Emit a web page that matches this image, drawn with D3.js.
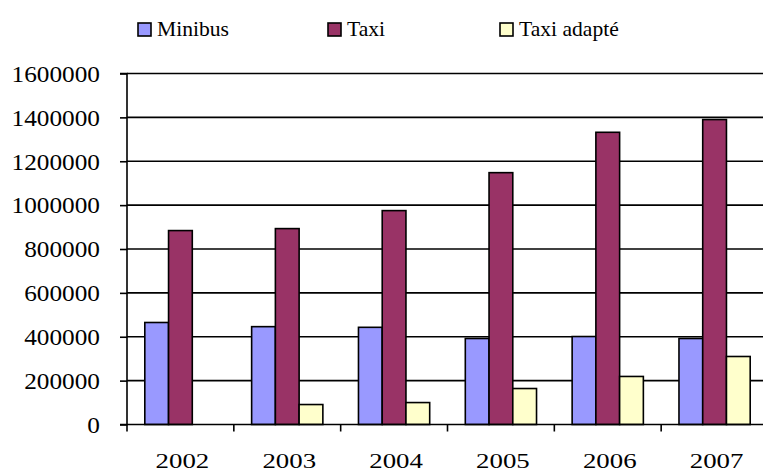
<!DOCTYPE html>
<html>
<head>
<meta charset="utf-8">
<script src="https://cdn.jsdelivr.net/npm/d3@7"></script>
<style>
html,body{margin:0;padding:0;background:#fff;overflow:hidden;}
svg{display:block;}
</style>
</head>
<body>
<svg id="chart" width="763" height="474"></svg>
<script>
const years = ["2002","2003","2004","2005","2006","2007"];
const seriesNames = ["Minibus","Taxi","Taxi adapté"];
const seriesColors = ["#9999FF","#993366","#FFFFCC"];
const minibus = [465000, 446000, 443000, 392000, 401000, 392000];
const taxi = [884000, 893000, 975000, 1148000, 1332000, 1390000];
const taxiAdapte = [0, 91000, 100000, 164000, 219000, 310000];
const yTicks = [0, 200000, 400000, 600000, 800000, 1000000, 1200000, 1400000, 1600000];

const seriesValues = [minibus, taxi, taxiAdapte];
const svg = d3.select("#chart");
const mLeft = 127, mRight = 768, mTop = 73.5, mBottom = 424.5;
const FONT = "'Liberation Serif'";

const x = d3.scaleBand().domain(years).range([mLeft, mRight]).paddingInner(0).paddingOuter(0);
const bw = x.bandwidth() / 4.5;
const x1 = d3.scaleBand().domain(seriesNames).range([0.75 * bw, 3.75 * bw]).padding(0);
const y = d3.scaleLinear().domain([0, 1600000]).range([mBottom, mTop]);

// gridlines
svg.append("g").selectAll("line").data(yTicks.filter(d => d > 0)).join("line")
  .attr("x1", mLeft).attr("x2", mRight)
  .attr("y1", d => y(d)).attr("y2", d => y(d))
  .attr("stroke", "#000").attr("stroke-width", 1.6);

// bars
const groups = svg.append("g").selectAll("g").data(years).join("g")
  .attr("transform", d => `translate(${x(d)},0)`);
groups.selectAll("rect").data((yr, i) => seriesNames.map((s, j) => ({s, j, v: seriesValues[j][i]})).filter(d => d.v > 0))
  .join("rect")
  .attr("x", d => x1(d.s))
  .attr("width", x1.bandwidth())
  .attr("y", d => y(d.v))
  .attr("height", d => y(0) - y(d.v))
  .attr("fill", d => seriesColors[d.j])
  .attr("stroke", "#000").attr("stroke-width", 1.6);

// y axis
const yAxis = d3.axisLeft(y).tickValues(yTicks).tickSize(7).tickPadding(19).tickFormat(d3.format("d"));
const gy = svg.append("g").attr("transform", `translate(${mLeft},0)`).call(yAxis);
gy.attr("font-family", null).attr("font-size", null);
gy.select(".domain").attr("stroke", "#000").attr("stroke-width", 1.6).attr("d", `M-7,${mTop}H0V${mBottom}H-7`);
gy.selectAll(".tick line").attr("stroke", "#000").attr("stroke-width", 1.6);
gy.selectAll(".tick text")
  .attr("x", 0).attr("dy", "0.34em")
  .attr("transform", "translate(-27,0) scale(1.1,1)")
  .attr("fill", "#000")
  .style("font-family", FONT).style("font-size", "23px");

// x axis
const xTickPos = years.map(d => x(d)).concat([mRight]);
const gx = svg.append("g");
gx.append("line").attr("x1", mLeft).attr("x2", mRight).attr("y1", mBottom).attr("y2", mBottom)
  .attr("stroke", "#000").attr("stroke-width", 1.6);
gx.selectAll("line.tk").data(xTickPos).join("line").attr("class", "tk")
  .attr("x1", d => d).attr("x2", d => d).attr("y1", mBottom).attr("y2", mBottom + 7)
  .attr("stroke", "#000").attr("stroke-width", 1.6);
gx.selectAll("text").data(years).join("text")
  .attr("transform", d => `translate(${x(d) + x.bandwidth() / 2 + 2},467.5) scale(1.22,1)`)
  .attr("text-anchor", "middle").attr("fill", "#000")
  .style("font-family", FONT).style("font-size", "22px")
  .text(d => d);

// legend
const legendX = [138, 328, 500];
const lg = svg.append("g").selectAll("g").data(seriesNames).join("g")
  .attr("transform", (d, i) => `translate(${legendX[i]},23)`);
lg.append("rect").attr("width", 13).attr("height", 13)
  .attr("fill", (d, i) => seriesColors[i]).attr("stroke", "#000").attr("stroke-width", 1.6);
lg.append("text")
  .attr("transform", "translate(19,12.5) scale(1.08,1)")
  .attr("fill", "#000")
  .style("font-family", FONT).style("font-size", "20px")
  .text(d => d);
</script>
</body>
</html>
